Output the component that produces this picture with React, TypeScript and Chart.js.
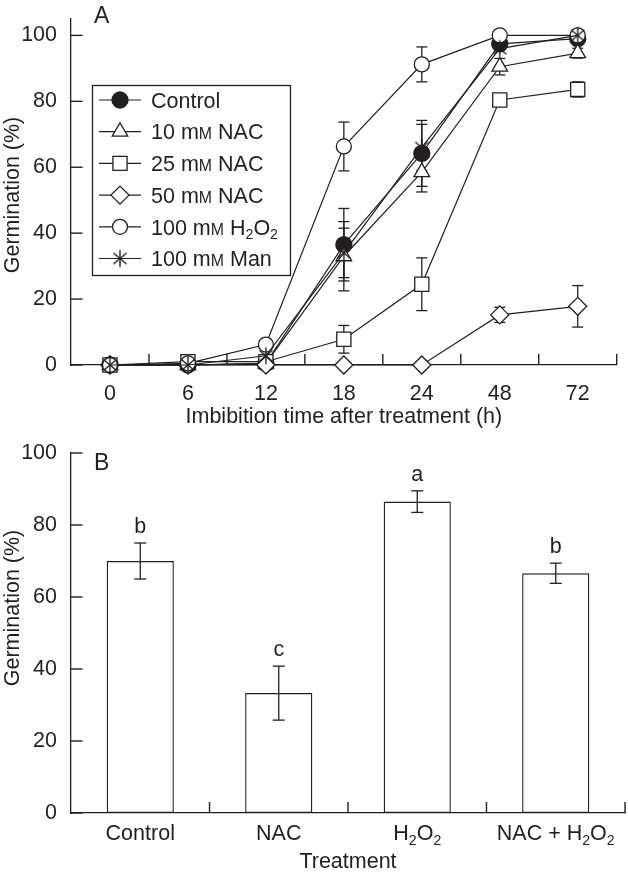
import React, { useEffect, useRef } from 'react';
import { Chart, registerables } from 'chart.js';

Chart.register(...registerables);

// ---------- data ----------
const hours = ['0', '6', '12', '18', '24', '48', '72'];
const seriesLabels = ['Control', '10 mᴍ NAC', '25 mᴍ NAC', '50 mᴍ NAC', '100 mᴍ H₂O₂', '100 mᴍ Man'];

const controlVals = [0, 0, 0.5, 36.5, 64.2, 97.4, 99];
const controlErr = [0, 0, 0, 11, 10, 0, 0];
const nac10Vals = [0, 0, 0.5, 33, 58.5, 90.5, 94.6];
const nac10Err = [0, 0, 0, 10.5, 6, 2.5, 1.5];
const nac25Vals = [0, 1, 1, 7.8, 24.5, 80.4, 83.6];
const nac25Err = [0, 0, 0, 4.2, 8, 0, 2.3];
const nac50Vals = [0, 0, 0, 0, 0, 15.2, 17.8];
const nac50Err = [0, 0, 0, 0, 0, 2.3, 6.3];
const h2o2Vals = [0, 0.5, 6.2, 66.3, 91.2, 100, 100];
const h2o2Err = [0, 0, 0, 7.4, 5.3, 0, 0];
const manVals = [0, 0, 2.8, 34, 66, 96, 100];
const manErr = [0, 0, 0, 7.5, 7, 0, 0];

const treatments = ['Control', 'NAC', 'H₂O₂', 'NAC + H₂O₂'];
const treatmentVals = [70, 33.3, 86.5, 66.6];
const treatmentErr = [5, 7.5, 3, 2.8];
const treatmentLetters = ['b', 'c', 'a', 'b'];

const yTickVals = [0, 20, 40, 60, 80, 100];
const yTitle = 'Germination (%)';
const xTitleA = 'Imbibition time after treatment (h)';
const xTitleB = 'Treatment';
const panelA = 'A';
const panelB = 'B';

// ---------- styling ----------
const INK = '#231f20';
const FAMILY = "'Liberation Sans', Arial, Helvetica, sans-serif";
const FS = 21.5;
const fnt = (s: number = FS) => `${s}px ${FAMILY}`;

const looks = [
  { style: 'circle', r: 8, fill: INK, order: 6 },
  { style: 'triangle', r: 9, fill: '#ffffff', order: 5 },
  { style: 'rect', r: 10, fill: '#ffffff', order: 4 },
  { style: 'rectRot', r: 9, fill: '#ffffff', order: 3 },
  { style: 'circle', r: 7.5, fill: '#ffffff', order: 2 },
  { style: 'star', r: 8, fill: '#ffffff', order: 1 },
];

function makeAsterisk(): HTMLCanvasElement {
  const c = document.createElement('canvas');
  c.width = 20;
  c.height = 20;
  const g = c.getContext('2d')!;
  g.strokeStyle = INK;
  g.lineWidth = 1.4;
  const L = 8.5;
  [90, 40, 140].forEach((deg) => {
    const a = (deg * Math.PI) / 180;
    g.beginPath();
    g.moveTo(10 - Math.cos(a) * L, 10 - Math.sin(a) * L);
    g.lineTo(10 + Math.cos(a) * L, 10 + Math.sin(a) * L);
    g.stroke();
  });
  return c;
}

function drawShape(ctx: CanvasRenderingContext2D, style: string, x: number, y: number, r: number, fill: string, img: HTMLCanvasElement) {
  ctx.save();
  if (style === 'star') {
    ctx.drawImage(img, x - img.width / 2, y - img.height / 2);
    ctx.restore();
    return;
  }
  ctx.fillStyle = fill;
  ctx.strokeStyle = INK;
  ctx.lineWidth = 1.3;
  ctx.beginPath();
  if (style === 'circle') ctx.arc(x, y, r, 0, Math.PI * 2);
  else if (style === 'triangle') {
    for (let k = 0; k < 3; k++) {
      const a = (k * 2 * Math.PI) / 3;
      const px = x + Math.sin(a) * r;
      const py = y - Math.cos(a) * r;
      if (k === 0) ctx.moveTo(px, py);
      else ctx.lineTo(px, py);
    }
    ctx.closePath();
  } else if (style === 'rect') {
    const s = r * Math.SQRT1_2;
    ctx.rect(x - s, y - s, 2 * s, 2 * s);
  } else if (style === 'rectRot') {
    ctx.moveTo(x, y - r);
    ctx.lineTo(x + r, y);
    ctx.lineTo(x, y + r);
    ctx.lineTo(x - r, y);
    ctx.closePath();
  }
  ctx.fill();
  ctx.stroke();
  ctx.restore();
}

type Part = { t: string; k: 'n' | 'sc' | 'sub' };
function parseRich(text: string): Part[] {
  const out: Part[] = [];
  for (const ch of Array.from(text)) {
    if (ch === 'ᴍ') out.push({ t: 'M', k: 'sc' });
    else if (ch === '₂') out.push({ t: '2', k: 'sub' });
    else {
      const last = out[out.length - 1];
      if (last && last.k === 'n') last.t += ch;
      else out.push({ t: ch, k: 'n' });
    }
  }
  return out;
}

function drawRich(ctx: CanvasRenderingContext2D, text: string, x: number, y: number, size: number, align: 'left' | 'center') {
  const parts = parseRich(text);
  const sz = (p: Part) => (p.k === 'sc' ? size * 0.74 : p.k === 'sub' ? size * 0.66 : size);
  let w = 0;
  for (const p of parts) {
    ctx.font = fnt(sz(p));
    w += ctx.measureText(p.t).width;
  }
  let cx = align === 'center' ? x - w / 2 : x;
  ctx.textAlign = 'left';
  ctx.textBaseline = 'alphabetic';
  ctx.fillStyle = INK;
  for (const p of parts) {
    ctx.font = fnt(sz(p));
    ctx.fillText(p.t, cx, y + (p.k === 'sub' ? size * 0.22 : 0));
    cx += ctx.measureText(p.t).width;
  }
}

function seg(ctx: CanvasRenderingContext2D, x1: number, y1: number, x2: number, y2: number) {
  ctx.beginPath();
  ctx.moveTo(x1, y1);
  ctx.lineTo(x2, y2);
  ctx.stroke();
}

function drawErrorBars(ctx: CanvasRenderingContext2D, chart: any, vals: number[], errs: number[], cap: number) {
  const xs = chart.scales.x;
  const ys = chart.scales.y;
  ctx.save();
  ctx.strokeStyle = INK;
  ctx.lineWidth = 1.3;
  vals.forEach((v, i) => {
    const e = errs[i];
    if (!e) return;
    const px = xs.getPixelForValue(i);
    const t = ys.getPixelForValue(v + e);
    const b = ys.getPixelForValue(v - e);
    seg(ctx, px, t, px, b);
    seg(ctx, px - cap, t, px + cap, t);
    seg(ctx, px - cap, b, px + cap, b);
  });
  ctx.restore();
}

function drawAxesDecor(chart: any, nCats: number, titleX: string, titleXBaseline: number, titleYCenter: number, letter: string, letterBaseline: number) {
  const ctx: CanvasRenderingContext2D = chart.ctx;
  const { left, right, bottom } = chart.chartArea;
  const xs = chart.scales.x;
  const ys = chart.scales.y;
  ctx.save();
  ctx.strokeStyle = INK;
  ctx.lineWidth = 1.4;
  // inward y ticks
  yTickVals.forEach((v) => {
    const py = ys.getPixelForValue(v);
    seg(ctx, left, py, left + 11.5, py);
  });
  // inward x ticks at category boundaries
  for (let i = 1; i <= nCats; i++) {
    const px = xs.getPixelForValue(i - 0.5);
    seg(ctx, px, bottom, px, bottom - 11);
  }
  // y title
  ctx.fillStyle = INK;
  ctx.font = fnt();
  ctx.save();
  ctx.translate(18.5, titleYCenter);
  ctx.rotate(-Math.PI / 2);
  ctx.textAlign = 'center';
  ctx.textBaseline = 'alphabetic';
  ctx.fillText(yTitle, 0, 0);
  ctx.restore();
  // x title
  ctx.textAlign = 'center';
  ctx.textBaseline = 'alphabetic';
  ctx.fillText(titleX, (left + right) / 2, titleXBaseline);
  // panel letter
  ctx.font = fnt(23);
  ctx.textAlign = 'left';
  ctx.fillText(letter, 94, letterBaseline);
  ctx.restore();
}

export default function App() {
  const refA = useRef<HTMLCanvasElement>(null);
  const refB = useRef<HTMLCanvasElement>(null);

  useEffect(() => {
    const star = makeAsterisk();
    const valuesA = [controlVals, nac10Vals, nac25Vals, nac50Vals, h2o2Vals, manVals];
    const errorsA = [controlErr, nac10Err, nac25Err, nac50Err, h2o2Err, manErr];

    const tickFont = { family: FAMILY, size: FS };

    const pluginA = {
      id: 'decorA',
      beforeDatasetsDraw(chart: any) {
        valuesA.forEach((v, i) => drawErrorBars(chart.ctx, chart, v, errorsA[i], 5.5));
      },
      afterDraw(chart: any) {
        drawAxesDecor(chart, hours.length, xTitleA, 423, 195, panelA, 23);
        const ctx: CanvasRenderingContext2D = chart.ctx;
        // legend box
        ctx.save();
        ctx.strokeStyle = INK;
        ctx.lineWidth = 1.3;
        ctx.strokeRect(92.5, 85.5, 198, 190);
        seriesLabels.forEach((lab, i) => {
          const cy = 100 + i * 31.7;
          ctx.strokeStyle = INK;
          ctx.lineWidth = 1.2;
          seg(ctx, 99, cy, 141, cy);
          drawShape(ctx, looks[i].style, 120, cy, looks[i].r, looks[i].fill, star);
          drawRich(ctx, lab, 151, cy + 7.7, FS, 'left');
        });
        ctx.restore();
      },
    };

    const chartA = new Chart(refA.current!, {
      type: 'line',
      data: {
        labels: hours,
        datasets: valuesA.map((d, i) => ({
          label: seriesLabels[i],
          data: d,
          borderColor: INK,
          borderWidth: 1.2,
          backgroundColor: looks[i].fill,
          pointStyle: looks[i].style === 'star' ? (star as any) : (looks[i].style as any),
          pointRadius: looks[i].r,
          pointBorderWidth: 1.3,
          pointBackgroundColor: looks[i].fill,
          pointBorderColor: INK,
          tension: 0,
          fill: false,
          clip: false as any,
          order: looks[i].order,
        })),
      },
      options: {
        responsive: false,
        animation: false,
        events: [],
        layout: { padding: { top: 8, right: 3, left: 0, bottom: 0 } },
        plugins: { legend: { display: false }, tooltip: { enabled: false } },
        scales: {
          x: {
            type: 'category',
            offset: true,
            grid: { display: false },
            border: { display: true, color: INK, width: 1.3 },
            ticks: { color: INK, font: tickFont, padding: 8, maxRotation: 0, autoSkip: false },
            afterFit: (s: any) => {
              s.height = 65;
            },
          },
          y: {
            min: 0,
            max: 105,
            grid: { display: false },
            border: { display: true, color: INK, width: 1.3 },
            ticks: { color: INK, font: tickFont, padding: 6, stepSize: 20, includeBounds: false },
            afterFit: (s: any) => {
              s.width = 71;
            },
          },
        },
      },
      plugins: [pluginA],
    });

    const pluginB = {
      id: 'decorB',
      afterDatasetsDraw(chart: any) {
        const ctx: CanvasRenderingContext2D = chart.ctx;
        drawErrorBars(ctx, chart, treatmentVals, treatmentErr, 6);
        const xs = chart.scales.x;
        const ys = chart.scales.y;
        ctx.save();
        ctx.fillStyle = INK;
        ctx.font = fnt();
        ctx.textAlign = 'center';
        ctx.textBaseline = 'alphabetic';
        treatmentLetters.forEach((l, i) => {
          const top = ys.getPixelForValue(treatmentVals[i] + treatmentErr[i]);
          ctx.fillText(l, xs.getPixelForValue(i), top - 10);
        });
        ctx.restore();
      },
      afterDraw(chart: any) {
        const ctx: CanvasRenderingContext2D = chart.ctx;
        const xs = chart.scales.x;
        ctx.save();
        treatments.forEach((t, i) => drawRich(ctx, t, xs.getPixelForValue(i), 410, FS, 'center'));
        ctx.restore();
        drawAxesDecor(chart, treatments.length, xTitleB, 438, 178, panelB, 40);
      },
    };

    const chartB = new Chart(refB.current!, {
      type: 'bar',
      data: {
        labels: treatments,
        datasets: [
          {
            label: 'Germination',
            data: treatmentVals,
            backgroundColor: '#ffffff',
            borderColor: INK,
            borderWidth: 1.4,
            borderSkipped: false,
            barPercentage: 0.485,
            categoryPercentage: 1,
          },
        ],
      },
      options: {
        responsive: false,
        animation: false,
        events: [],
        layout: { padding: { top: 23, right: 3, left: 0, bottom: 0 } },
        plugins: { legend: { display: false }, tooltip: { enabled: false } },
        scales: {
          x: {
            type: 'category',
            offset: true,
            grid: { display: false },
            border: { display: true, color: INK, width: 1.3 },
            ticks: { display: false },
            afterFit: (s: any) => {
              s.height = 61;
            },
          },
          y: {
            min: 0,
            max: 100,
            grid: { display: false },
            border: { display: true, color: INK, width: 1.3 },
            ticks: { color: INK, font: tickFont, padding: 6, stepSize: 20 },
            afterFit: (s: any) => {
              s.width = 71;
            },
          },
        },
      },
      plugins: [pluginB],
    });

    return () => {
      chartA.destroy();
      chartB.destroy();
    };
  }, []);

  return (
    <div style={{ position: 'absolute', left: 0, top: 0, width: 628, height: 874, background: '#ffffff' }}>
      <canvas ref={refA} width={628} height={430} style={{ position: 'absolute', left: 0, top: 0, width: 628, height: 430 }} />
      <canvas ref={refB} width={628} height={444} style={{ position: 'absolute', left: 0, top: 430, width: 628, height: 444 }} />
    </div>
  );
}
